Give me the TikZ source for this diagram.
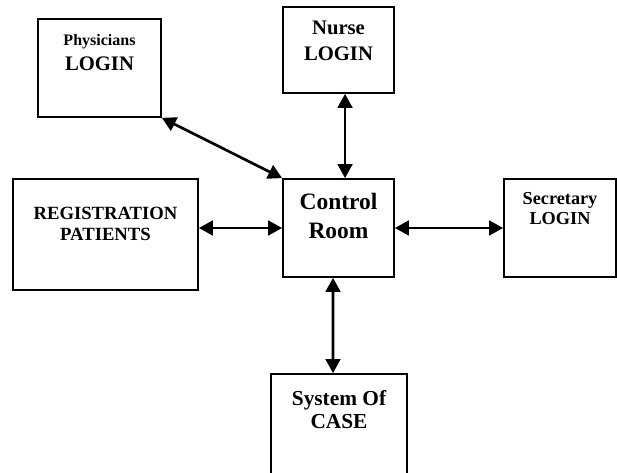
\documentclass[tikz,border=0pt]{standalone}
\usepackage{fontspec}
\setmainfont{Liberation Serif}
\usepackage{tikz}
\usetikzlibrary{arrows.meta,positioning}
\tikzset{
  box/.style  = {draw, line width=1.3pt, inner sep=0pt},
  lbl/.style  = {anchor=north, align=center, inner sep=0pt},
  link/.style = {{Triangle[length=10.5pt,width=11pt]}-{Triangle[length=10.5pt,width=11pt]}, line width=2pt},
}
\newcommand{\fsz}[2]{\bfseries\fontsize{#1}{#2}\selectfont}

\begin{document}
\begin{tikzpicture}[x=0.75pt,y=0.75pt]
  \useasboundingbox (0,0) rectangle (617,473);
  \clip (0,0) rectangle (617,473);
  \node[box, minimum width=92.25pt, minimum height=73.5pt]  (phys)  at (99.5,405) {};
  \node[box, minimum width=83.25pt, minimum height=64.5pt]  (nurse) at (338.5,423) {};
  \node[box, minimum width=138.75pt, minimum height=83.25pt] (reg)  at (105.5,238.5) {};
  \node[box, minimum width=83.25pt, minimum height=73.5pt]  (ctrl)  at (338.5,245) {};
  \node[box, minimum width=84pt, minimum height=73.5pt]     (sec)   at (560,245) {};
  \node[box, minimum width=102pt, minimum height=79.5pt]    (sys)   at (339,46) {};

  \node[lbl, font=\fsz{15.5}{18.75}] (physlbl)  at ([yshift=-12pt]phys.north) {\fsz{12}{18.75}Physicians\\LOGIN};
  \node[lbl, font=\fsz{15.5}{19.5}]  (nurselbl) at ([yshift=-11pt]nurse.north) {Nurse\\LOGIN};
  \node[lbl, font=\fsz{14}{15.75}]   (reglbl)   at ([yshift=-21.75pt]reg.north) {REGISTRATION\\PATIENTS};
  \node[lbl, font=\fsz{17.6}{21.75}] (ctrllbl)  at ([yshift=-11pt]ctrl.north) {Control\\Room};
  \node[lbl, font=\fsz{13.7}{15}]    (seclbl)   at ([yshift=-10.5pt]sec.north) {Secretary\\LOGIN};
  \node[lbl, font=\fsz{16}{17.25}]   (syslbl)   at ([yshift=-12.5pt]sys.north) {System Of\\CASE};

  \draw[link] (phys.south east) -- (ctrl.north west);
  \draw[link] ([xshift=4.9pt]nurse.south) -- ([xshift=4.9pt]ctrl.north);
  \draw[link] (reg.east |- ctrl.west) -- (ctrl.west);
  \draw[link] (ctrl.east) -- (sec.west);
  \draw[link] ([xshift=-4.1pt]ctrl.south) -- ([xshift=-4.5pt]sys.north);
\end{tikzpicture}
\end{document}
